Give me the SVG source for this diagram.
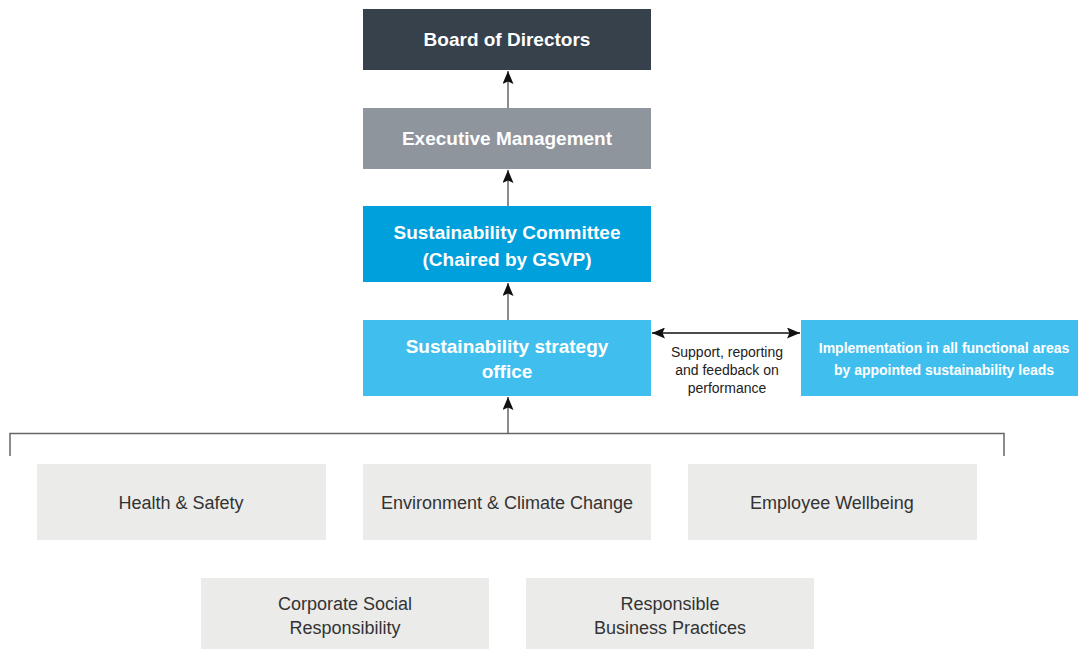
<svg xmlns="http://www.w3.org/2000/svg" width="1078" height="649" viewBox="0 0 1078 649">
<defs>
<style>
.hd{font-family:"Liberation Sans",Arial,sans-serif;font-weight:bold;fill:#fff;text-anchor:middle}
.gt{font-family:"Liberation Sans",Arial,sans-serif;font-size:18px;fill:#333;text-anchor:middle}
.lb{font-family:"Liberation Sans",Arial,sans-serif;font-size:14px;fill:#222;text-anchor:middle}
.ln{stroke:#666;stroke-width:1.5;fill:none}
.gb{fill:#ebebea}
</style>
<marker id="ah" markerWidth="13" markerHeight="11" refX="13" refY="5.5" orient="auto" markerUnits="userSpaceOnUse">
<path d="M0,0 L13,5.5 L0,11 L2.5,5.5 Z" fill="#111"/>
</marker>
<marker id="ahs" markerWidth="13" markerHeight="11" refX="0" refY="5.5" orient="auto" markerUnits="userSpaceOnUse">
<path d="M13,0 L0,5.5 L13,11 L10.5,5.5 Z" fill="#111"/>
</marker>
</defs>
<rect width="1078" height="649" fill="#fff"/>
<g id="connectors">
<line class="ln" x1="508" y1="108" x2="508" y2="71" marker-end="url(#ah)"/>
<line class="ln" x1="508" y1="206" x2="508" y2="170" marker-end="url(#ah)"/>
<line class="ln" x1="508" y1="320" x2="508" y2="283" marker-end="url(#ah)"/>
<line class="ln" x1="508" y1="433" x2="508" y2="397" marker-end="url(#ah)"/>
<polyline class="ln" points="10,456 10,433.5 1004,433.5 1004,456"/>
<line x1="652" y1="333" x2="800" y2="333" stroke="#111" stroke-width="1.3" marker-start="url(#ahs)" marker-end="url(#ah)"/>
<text class="lb" x="727" y="357">Support, reporting</text>
<text class="lb" x="727" y="375">and feedback on</text>
<text class="lb" x="727" y="393">performance</text>
</g>
<g id="board">
<rect x="363" y="9" width="288" height="61" fill="#36414b"/>
<text class="hd" x="507" y="46" font-size="19">Board of Directors</text>
</g>
<g id="exec">
<rect x="363" y="108" width="288" height="61" fill="#8e959d"/>
<text class="hd" x="507" y="145" font-size="19">Executive Management</text>
</g>
<g id="committee">
<rect x="363" y="206" width="288" height="76" fill="#00a0dc"/>
<text class="hd" x="507" y="239" font-size="19">Sustainability Committee</text>
<text class="hd" x="507" y="266" font-size="19">(Chaired by GSVP)</text>
</g>
<g id="office">
<rect x="363" y="320" width="288" height="76" fill="#40bfef"/>
<text class="hd" x="507" y="353" font-size="19">Sustainability strategy</text>
<text class="hd" x="507" y="378" font-size="19">office</text>
</g>
<g id="implementation">
<rect x="801" y="320" width="277" height="76" fill="#40bfef"/>
<text class="hd" x="944" y="353" font-size="14">Implementation in all functional areas</text>
<text class="hd" x="944" y="375" font-size="14">by appointed sustainability leads</text>
</g>
<g id="health">
<rect class="gb" x="37" y="464" width="289" height="76"/>
<text class="gt" x="181" y="509">Health &amp; Safety</text>
</g>
<g id="environment">
<rect class="gb" x="363" y="464" width="288" height="76"/>
<text class="gt" x="507" y="509">Environment &amp; Climate Change</text>
</g>
<g id="employee">
<rect class="gb" x="688" y="464" width="289" height="76"/>
<text class="gt" x="832" y="509">Employee Wellbeing</text>
</g>
<g id="csr">
<rect class="gb" x="201" y="578" width="288" height="71"/>
<text class="gt" x="345" y="610">Corporate Social</text>
<text class="gt" x="345" y="634">Responsibility</text>
</g>
<g id="rbp">
<rect class="gb" x="526" y="578" width="288" height="71"/>
<text class="gt" x="670" y="610">Responsible</text>
<text class="gt" x="670" y="634">Business Practices</text>
</g>
</svg>
